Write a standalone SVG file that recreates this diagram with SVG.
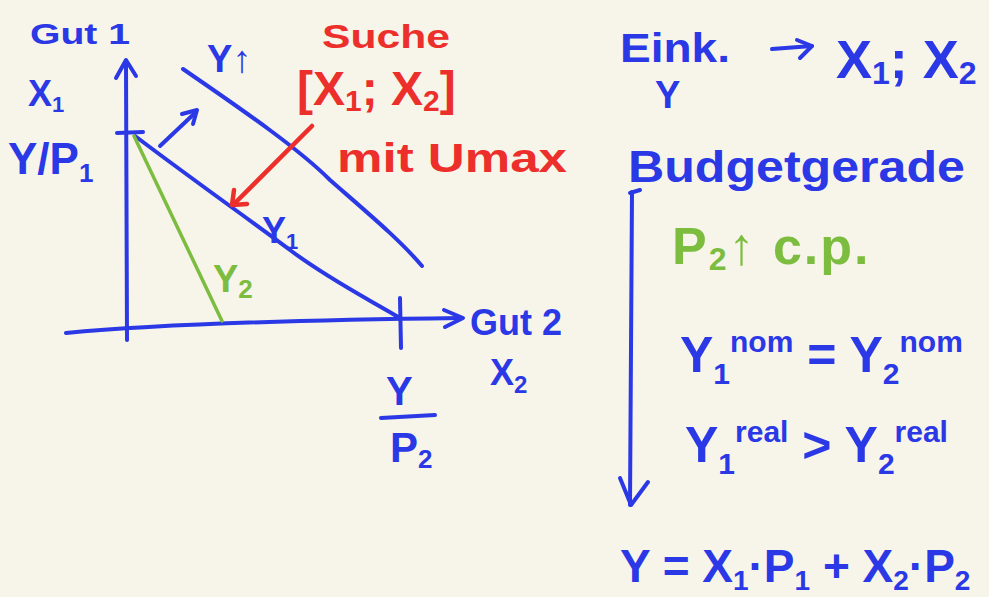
<svg xmlns="http://www.w3.org/2000/svg" width="989" height="597" viewBox="0 0 989 597">
<defs>
<style>
.b{fill:#2a38e6;font-family:"Liberation Sans",Arial,sans-serif;font-weight:bold}
.r{fill:#ec2f2a;font-family:"Liberation Sans",Arial,sans-serif;font-weight:bold}
.g{fill:#7cbd3f;font-family:"Liberation Sans",Arial,sans-serif;font-weight:bold}
.lb{stroke:#2a38e6;stroke-width:4;fill:none;stroke-linecap:round;stroke-linejoin:round}
.lr{stroke:#ec2f2a;stroke-width:4.5;fill:none;stroke-linecap:round;stroke-linejoin:round}
.lg{stroke:#7cbd3f;stroke-width:3.5;fill:none;stroke-linecap:round}
</style>
</defs>
<rect width="989" height="597" fill="#f7f4ea"/>
<g id="axes">
<path class="lb" d="M127,340 L126,62"/>
<path class="lb" d="M116,78 L126,60 L136,76"/>
<path class="lb" d="M66,333 C150,325 300,320 460,318"/>
<path class="lb" d="M444,310 L463,318 L445,327"/>
<path class="lb" d="M117,133 L143,132"/>
<path class="lb" d="M400,298 L401,348"/>
</g>
<g id="lines">
<path class="lb" d="M135,136 C200,185 250,220 290,250 C330,280 370,300 400,318"/>
<path class="lb" d="M183,69 C250,115 300,150 330,180 C370,215 400,240 422,266"/>
<path class="lg" d="M134,136 L222,321"/>
<path class="lb" d="M160,146 L196,112"/>
<path class="lb" d="M182,114 L197,110 L193,124"/>
<path class="lr" d="M312,126 L234,204"/>
<path class="lr" d="M234,190 L232,205 L247,204"/>
<path class="lb" d="M632,192 L630,505"/>
<path class="lb" d="M620,478 L631,505 L648,482"/>
<path class="lb" d="M630,193 L640,190"/>
<path class="lb" d="M772,49 L812,46"/>
<path class="lb" d="M797,40 L812,46 L800,58"/>
</g>
<g id="labels-left">
<text class="b" x="30" y="44" font-size="30" textLength="100" lengthAdjust="spacingAndGlyphs">Gut 1</text>
<text class="b" x="28" y="106" font-size="36">X<tspan font-size="22" dy="6">1</tspan></text>
<text class="b" x="8" y="174" font-size="44">Y/P<tspan font-size="26" dy="8">1</tspan></text>
<text class="b" x="207" y="72" font-size="38">Y↑</text>
<text class="b" x="262" y="243" font-size="36">Y<tspan font-size="22" dy="6">1</tspan></text>
<text class="g" x="213" y="292" font-size="38">Y<tspan font-size="26" dy="6">2</tspan></text>
<text class="b" x="470" y="335" font-size="36" textLength="92" lengthAdjust="spacingAndGlyphs">Gut 2</text>
<text class="b" x="490" y="385" font-size="36">X<tspan font-size="24" dy="8">2</tspan></text>
<text class="b" x="386" y="405" font-size="40">Y</text>
<path class="lb" d="M381,418 L435,415"/>
<text class="b" x="390" y="462" font-size="42">P<tspan font-size="26" dy="6">2</tspan></text>
</g>
<g id="labels-red">
<text class="r" x="322" y="48" font-size="34" textLength="128" lengthAdjust="spacingAndGlyphs">Suche</text>
<text class="r" x="297" y="105" font-size="48">[X<tspan font-size="30" dy="6">1</tspan><tspan dy="-6">; X</tspan><tspan font-size="30" dy="6">2</tspan><tspan dy="-6">]</tspan></text>
<text class="r" x="337" y="172" font-size="40" textLength="230" lengthAdjust="spacingAndGlyphs">mit Umax</text>
</g>
<g id="labels-right">
<text class="b" x="620" y="62" font-size="40" textLength="110" lengthAdjust="spacingAndGlyphs">Eink.</text>
<text class="b" x="655" y="108" font-size="38">Y</text>
<text class="b" x="836" y="78" font-size="54">X<tspan font-size="32" dy="6">1</tspan><tspan dy="-6">; X</tspan><tspan font-size="32" dy="6">2</tspan></text>
<text class="b" x="628" y="182" font-size="44" textLength="337" lengthAdjust="spacingAndGlyphs">Budgetgerade</text>
<text class="g" x="672" y="264" font-size="52" letter-spacing="2">P<tspan font-size="32" dy="6">2</tspan><tspan dy="-6">↑ c.p.</tspan></text>
<text class="b" x="680" y="372" font-size="50">Y<tspan font-size="30" dy="12">1</tspan><tspan font-size="30" dy="-32">nom</tspan><tspan dy="20"> = Y</tspan><tspan font-size="30" dy="12">2</tspan><tspan font-size="30" dy="-32">nom</tspan></text>
<text class="b" x="685" y="462" font-size="50">Y<tspan font-size="30" dy="12">1</tspan><tspan font-size="30" dy="-32">real</tspan><tspan dy="20"> &gt; Y</tspan><tspan font-size="30" dy="12">2</tspan><tspan font-size="30" dy="-32">real</tspan></text>
<text class="b" x="620" y="582" font-size="46">Y = X<tspan font-size="28" dy="8">1</tspan><tspan dy="-8">·P</tspan><tspan font-size="28" dy="8">1</tspan><tspan dy="-8"> + X</tspan><tspan font-size="28" dy="8">2</tspan><tspan dy="-8">·P</tspan><tspan font-size="28" dy="8">2</tspan></text>
</g>
</svg>
